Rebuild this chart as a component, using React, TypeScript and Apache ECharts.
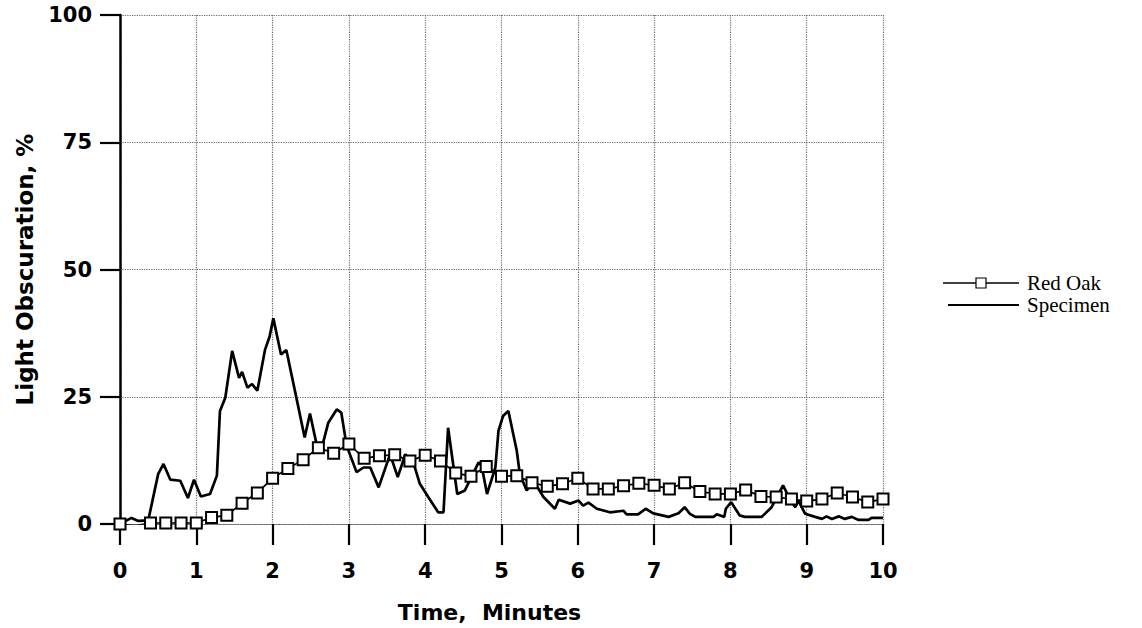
import React, { useEffect, useRef } from "react";
import * as echarts from "echarts";

const xTicks = [0, 1, 2, 3, 4, 5, 6, 7, 8, 9, 10];
const yTicks = [0, 25, 50, 75, 100];

const redOakTime = [
  0, 0.2, 0.4, 0.6, 0.8, 1.0, 1.2, 1.4, 1.6, 1.8, 2.0, 2.2, 2.4, 2.6, 2.8, 3.0, 3.2, 3.4, 3.6, 3.8,
  4.0, 4.2, 4.4, 4.6, 4.8, 5.0, 5.2, 5.4, 5.6, 5.8, 6.0, 6.2, 6.4, 6.6, 6.8, 7.0, 7.2, 7.4, 7.6, 7.8,
  8.0, 8.2, 8.4, 8.6, 8.8, 9.0, 9.2, 9.4, 9.6, 9.8, 10.0,
];
const redOakValue = [
  0, -0.3, 0.2, 0.2, 0.2, 0.2, 1.3, 1.7, 4.1, 6.1, 9.0, 10.9, 12.6, 15.0, 13.9, 15.7, 12.9, 13.4, 13.6, 12.4,
  13.5, 12.4, 10.0, 9.4, 11.3, 9.4, 9.5, 8.1, 7.4, 7.9, 9.0, 6.9, 6.9, 7.5, 8.0, 7.6, 6.9, 8.1, 6.4, 5.9,
  5.9, 6.7, 5.4, 5.3, 4.9, 4.5, 4.9, 6.1, 5.3, 4.3, 4.9,
];

const specimenPoints: [number, number][] = [
  [0, 0], [0.15, 1.2], [0.24, 0.6], [0.37, 0.7], [0.5, 9.8], [0.57, 11.8], [0.66, 8.7], [0.79, 8.5],
  [0.89, 5.1], [0.97, 8.7], [1.06, 5.4], [1.18, 5.9], [1.27, 9.5], [1.31, 22.2], [1.38, 24.8], [1.47, 34.0],
  [1.56, 28.7], [1.6, 29.9], [1.67, 26.8], [1.73, 27.5], [1.8, 26.2], [1.9, 34.2], [1.96, 36.8], [2.01, 40.4],
  [2.11, 33.3], [2.18, 34.2], [2.33, 23.5], [2.42, 17.0], [2.49, 21.7], [2.58, 15.4], [2.64, 14.7], [2.73, 19.9],
  [2.84, 22.5], [2.9, 21.9], [2.97, 15.4], [3.1, 10.2], [3.19, 11.1], [3.28, 11.1], [3.39, 7.2], [3.54, 13.7],
  [3.64, 9.2], [3.74, 13.7], [3.85, 11.8], [3.93, 7.9], [4.04, 5.3], [4.17, 2.3], [4.24, 2.3], [4.3, 18.9],
  [4.42, 5.9], [4.52, 6.6], [4.7, 12.1], [4.74, 11.4], [4.81, 5.9], [4.92, 11.1], [4.96, 18.3], [5.02, 21.2],
  [5.09, 22.2], [5.2, 14.4], [5.24, 9.8], [5.33, 6.6], [5.42, 8.5], [5.55, 5.3], [5.7, 3.0], [5.75, 4.75],
  [5.9, 4.0], [6.01, 4.6], [6.07, 3.6], [6.14, 4.2], [6.25, 3.0], [6.42, 2.3], [6.6, 2.6], [6.64, 1.9],
  [6.79, 1.9], [6.89, 3.0], [6.99, 2.1], [7.19, 1.4], [7.32, 2.1], [7.4, 3.3], [7.47, 2.0], [7.54, 1.4],
  [7.78, 1.4], [7.82, 1.9], [7.92, 1.4], [7.94, 3.0], [8.01, 4.3], [8.12, 1.7], [8.19, 1.4], [8.41, 1.4],
  [8.54, 3.3], [8.69, 7.6], [8.78, 4.9], [8.85, 3.3], [8.89, 4.6], [8.98, 2.0], [9.11, 1.4], [9.2, 1.0],
  [9.26, 1.5], [9.33, 1.0], [9.42, 1.5], [9.5, 1.0], [9.59, 1.4], [9.68, 0.8], [9.81, 0.8], [9.85, 1.2],
  [10.0, 1.2],
];

const seriesNames = ["Red Oak", "Specimen"];
const xAxisTitle = "Time,  Minutes";
const yAxisTitle = "Light Obscuration, %";

export default function App() {
  const ref = useRef<HTMLDivElement>(null);
  useEffect(() => {
    document.body.style.margin = "0";
    if (!ref.current) return;
    const chart = echarts.init(ref.current, undefined, { renderer: "svg" });
    const gridLine = { show: true, lineStyle: { color: "#6a6a6a", type: "dotted" as const, width: 1.2 } };
    const legendFont = { fontFamily: "Liberation Serif", fontSize: 21, fill: "#000" };
    chart.setOption({
      animation: false,
      backgroundColor: "#ffffff",
      grid: { left: 120, right: 259, top: 15, bottom: 101 },
      graphic: [
        { type: "line", shape: { x1: 943, y1: 283, x2: 976, y2: 283 }, style: { stroke: "#000", lineWidth: 1.6 } },
        { type: "rect", shape: { x: 976, y: 278, width: 10, height: 10 }, style: { fill: "#fff", stroke: "#000", lineWidth: 1.2 } },
        { type: "line", shape: { x1: 986, y1: 283, x2: 1019, y2: 283 }, style: { stroke: "#000", lineWidth: 1.6 } },
        { type: "text", x: 1027, y: 283, style: { ...legendFont, text: seriesNames[0], verticalAlign: "middle" } },
        { type: "line", shape: { x1: 948, y1: 305, x2: 1019, y2: 305 }, style: { stroke: "#000", lineWidth: 1.8 } },
        { type: "text", x: 1027, y: 305, style: { ...legendFont, text: seriesNames[1], verticalAlign: "middle" } },
      ],
      xAxis: {
        type: "value",
        min: xTicks[0],
        max: xTicks[xTicks.length - 1],
        interval: 1,
        name: xAxisTitle,
        nameLocation: "middle",
        nameGap: 77,
        nameTextStyle: {
          fontFamily: "DejaVu Sans",
          fontWeight: "bold",
          fontSize: 22,
          color: "#000",
          padding: [0, 24, 0, 0],
        },
        axisLine: { show: true, lineStyle: { color: "#6a6a6a", type: "dotted", width: 1.2 } },
        axisTick: { show: true, inside: false, length: 21, lineStyle: { color: "#000", width: 2.2 } },
        axisLabel: {
          margin: 36,
          fontFamily: "DejaVu Sans",
          fontWeight: "bold",
          fontSize: 21,
          color: "#000",
        },
        splitLine: gridLine,
      },
      yAxis: {
        type: "value",
        min: yTicks[0],
        max: yTicks[yTicks.length - 1],
        interval: 25,
        name: yAxisTitle,
        nameLocation: "middle",
        nameGap: 84,
        nameTextStyle: {
          fontFamily: "DejaVu Sans",
          fontWeight: "bold",
          fontSize: 23,
          color: "#000",
        },
        axisLine: { show: true, lineStyle: { color: "#000", width: 2.5 } },
        axisTick: { show: true, inside: false, length: 20, lineStyle: { color: "#000", width: 2.2 } },
        axisLabel: {
          margin: 28,
          fontFamily: "DejaVu Sans",
          fontWeight: "bold",
          fontSize: 21,
          color: "#000",
        },
        splitLine: gridLine,
      },
      series: [
        {
          name: seriesNames[0],
          type: "line",
          data: redOakTime.map((t, i) => [t, redOakValue[i]]),
          symbol: "emptyRect",
          symbolSize: 11,
          itemStyle: { color: "#000", borderColor: "#000", borderWidth: 1.6 },
          lineStyle: { color: "#000", width: 1.7 },
          z: 3,
        },
        {
          name: seriesNames[1],
          type: "line",
          data: specimenPoints,
          symbol: "none",
          lineStyle: { color: "#000", width: 2.7 },
          itemStyle: { color: "#000" },
          z: 2,
        },
      ],
    });
    return () => chart.dispose();
  }, []);
  return <div ref={ref} style={{ width: 1142, height: 628 }} />;
}
